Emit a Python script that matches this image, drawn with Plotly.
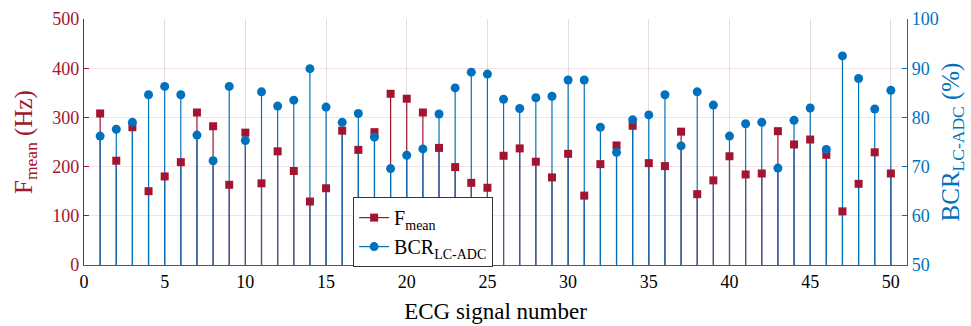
import plotly.graph_objects as go

signal_number = list(range(1, 51))
f_mean = [308, 212, 280, 150, 180, 209, 310, 282, 163, 269,
          166, 231, 191, 129, 156, 273, 234, 270, 348, 338,
          310, 238, 199, 167, 157, 222, 237, 210, 178, 226,
          141, 205, 243, 283, 207, 201, 271, 144, 172, 221,
          184, 186, 272, 245, 255, 224, 109, 165, 229, 186]
bcr = [76.2, 77.6, 79.0, 84.6, 86.3, 84.6, 76.4, 71.2, 86.3, 75.3,
       85.2, 82.3, 83.5, 89.9, 82.1, 79.0, 80.8, 76.0, 69.6, 72.3,
       73.6, 80.7, 86.0, 89.2, 88.8, 83.7, 81.8, 84.0, 84.3, 87.6,
       87.6, 78.0, 72.9, 79.5, 80.5, 84.6, 74.2, 85.2, 82.5, 76.2,
       78.7, 79.0, 69.7, 79.4, 81.9, 73.5, 92.5, 87.9, 81.7, 85.5]
x_ticks = [0, 5, 10, 15, 20, 25, 30, 35, 40, 45, 50]
f_ticks = [0, 100, 200, 300, 400, 500]
bcr_ticks = [50, 60, 70, 80, 90, 100]

RED = "#A2142F"
BLUE = "#0072BD"
FONT = "Liberation Serif"


def stems(xs, ys, base):
    sx, sy = [], []
    for xv, yv in zip(xs, ys):
        sx += [xv, xv, None]
        sy += [base, yv, None]
    return sx, sy


fig = go.Figure()

# legend entries
fig.add_trace(go.Scatter(x=[None], y=[None], mode="lines+markers", name="F<sub>mean</sub>",
                         line=dict(color=RED, width=1.2),
                         marker=dict(symbol="square", size=8, color=RED)))
fig.add_trace(go.Scatter(x=[None], y=[None], mode="lines+markers", name="BCR<sub>LC-ADC</sub>",
                         line=dict(color=BLUE, width=1.2),
                         marker=dict(symbol="circle", size=9, color=BLUE), yaxis="y2"))

fx, fy = stems(signal_number, f_mean, f_ticks[0])
fig.add_trace(go.Scatter(x=fx, y=fy, mode="lines", line=dict(color=RED, width=1.2),
                         showlegend=False, hoverinfo="skip", yaxis="y"))
bx, by = stems(signal_number, bcr, bcr_ticks[0])
fig.add_trace(go.Scatter(x=bx, y=by, mode="lines", line=dict(color=BLUE, width=1.2),
                         showlegend=False, hoverinfo="skip", yaxis="y2"))
fig.add_trace(go.Scatter(x=signal_number, y=f_mean, mode="markers",
                         marker=dict(symbol="square", size=8, color=RED),
                         showlegend=False, yaxis="y3"))
fig.add_trace(go.Scatter(x=signal_number, y=bcr, mode="markers",
                         marker=dict(symbol="circle", size=9, color=BLUE),
                         showlegend=False, yaxis="y4"))

fig.update_layout(
    width=971, height=326,
    margin=dict(l=84, r=64, t=19, b=61),
    paper_bgcolor="white", plot_bgcolor="white",
    font=dict(family=FONT, size=18, color="black"),
    showlegend=True,
    legend=dict(x=0.327, y=0.276, xanchor="left", yanchor="top",
                bgcolor="white", bordercolor="#333333", borderwidth=1,
                font=dict(family=FONT, size=20, color="black"),
                itemwidth=30, tracegroupgap=0),
    xaxis=dict(range=[0, 51], tickvals=x_ticks, showgrid=True, automargin=False,
               gridcolor="rgba(0,0,0,0.12)", gridwidth=1,
               showline=True, linecolor=BLUE, linewidth=1.2,
               ticks="", zeroline=False,
               tickfont=dict(family=FONT, size=18, color="black"),
               title=dict(text="ECG signal number", font=dict(family=FONT, size=23, color="black"),
                          standoff=12)),
    yaxis=dict(range=[0, 500], tickvals=f_ticks, showgrid=True, automargin=False,
               gridcolor="rgba(162,20,47,0.12)", gridwidth=1,
               showline=True, linecolor=RED, linewidth=1.2,
               ticks="inside", ticklen=5, tickcolor=RED, zeroline=False,
               tickfont=dict(family=FONT, size=18, color=RED),
               title=dict(text="F<sub>mean</sub> (Hz)", font=dict(family=FONT, size=25, color=RED),
                          standoff=12)),
    yaxis2=dict(range=[50, 100], tickvals=bcr_ticks, overlaying="y", side="right",
                automargin=False,
                showgrid=False, showline=True, linecolor=BLUE, linewidth=1.2,
                ticks="inside", ticklen=5, tickcolor=BLUE, zeroline=False,
                tickfont=dict(family=FONT, size=18, color=BLUE),
                title=dict(text="BCR<sub>LC-ADC</sub> (%)", font=dict(family=FONT, size=25, color=BLUE),
                           standoff=3)),
    yaxis3=dict(range=[0, 500], overlaying="y", visible=False),
    yaxis4=dict(range=[50, 100], overlaying="y", visible=False),
)

fig.write_html("out.html")
